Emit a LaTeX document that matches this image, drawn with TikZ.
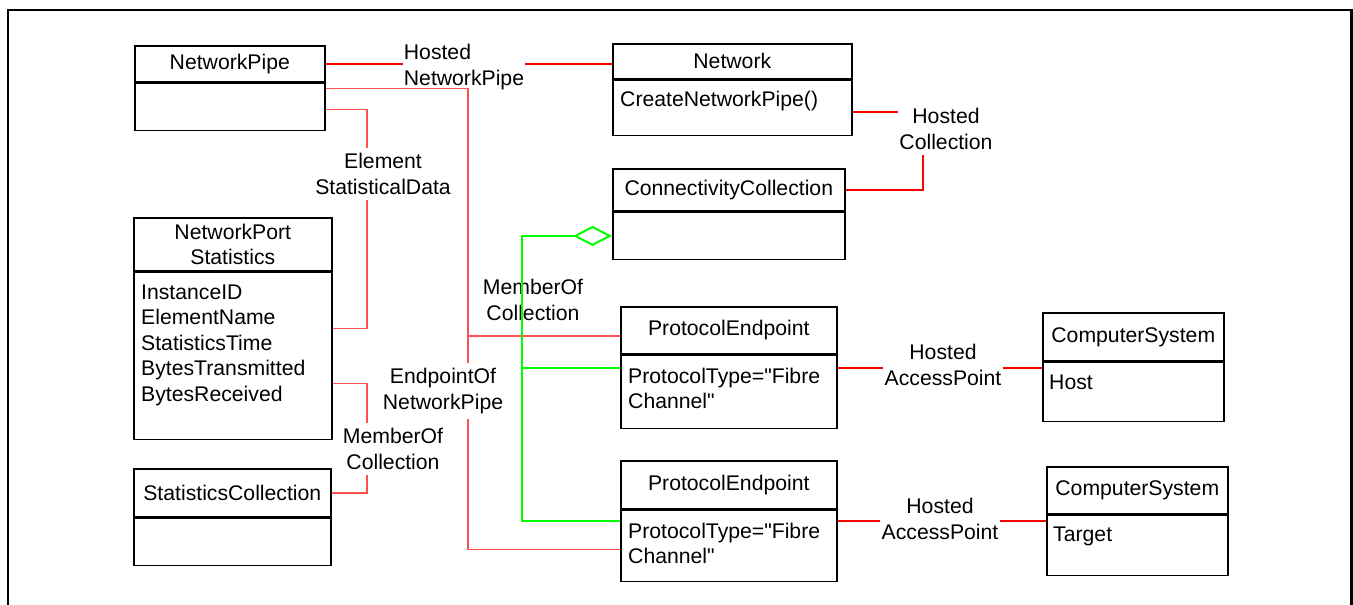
\documentclass[tikz,border=0pt]{standalone}
\usepackage{fontspec}
\setmainfont{Liberation Sans}[Ligatures=TeXOff]
\usetikzlibrary{arrows.meta, positioning}

\definecolor{hostred}{RGB}{255,0,0}
\definecolor{palered}{RGB}{255,80,80}
\definecolor{aggrgreen}{RGB}{0,255,0}

\begin{document}
\begin{tikzpicture}[x=1pt, y=-1pt,
		every node/.style={font=\fontsize{21.2}{25.5}\selectfont},
		head/.style={draw, line width=1.6pt, anchor=north west, inner sep=0pt, align=center},
		body/.style={draw, line width=1.6pt, anchor=north west, inner sep=0pt},
		attr/.style={anchor=north west, inner sep=0pt, align=left},
		rel/.style={inner xsep=1pt, inner ysep=5pt, align=center},
		hosted/.style={hostred, line width=2pt},
		assoc/.style={palered, line width=1.4pt},
		member/.style={aggrgreen, line width=2pt}]
			\useasboundingbox (0, 0) rectangle (1353, 605);
			\draw[line width=2.5pt] (8, 605) |- (1351.5, 10) -- (1351.5, 605);

			\node (pipe)[head, minimum width=190pt, minimum height=36pt] at (134, 45) {NetworkPipe};
			\node (pipeb)[body, minimum width=190pt, minimum height=47pt] at (pipe.south west) {};

			\node (nps)[head, minimum width=198pt, minimum height=53pt] at (133, 217) {NetworkPort\\Statistics};
			\node (npsb)[body, minimum width=198pt, minimum height=167pt] at (nps.south west) {};
			\node (npsa)[attr] at ([xshift=8pt, yshift=-13pt]npsb.north west) {InstanceID\\ElementName\\StatisticsTime\\BytesTransmitted\\BytesReceived};

			\node (stat)[head, minimum width=197pt, minimum height=48pt] at (133, 468) {StatisticsCollection};
			\node (statb)[body, minimum width=197pt, minimum height=47pt] at (stat.south west) {};

			\node (net)[head, minimum width=239pt, minimum height=35pt] at (612, 43) {Network};
			\node (netb)[body, minimum width=239pt, minimum height=55pt] at (net.south west) {};
			\node (neta)[attr] at ([xshift=8pt, yshift=-11pt]netb.north west) {CreateNetworkPipe()};

			\node (conn)[head, minimum width=232pt, minimum height=42pt] at (612, 168) {ConnectivityCollection};
			\node (connb)[body, minimum width=232pt, minimum height=47pt] at (conn.south west) {};

			\node (pe1)[head, minimum width=216pt, minimum height=47pt] at (620, 306) {ProtocolEndpoint};
			\node (pe1b)[body, minimum width=216pt, minimum height=73pt] at (pe1.south west) {};
			\node (pe1a)[attr] at ([xshift=8pt, yshift=-13pt]pe1b.north west) {ProtocolType="Fibre\\Channel"};

			\node (pe2)[head, minimum width=216pt, minimum height=48pt] at (620, 460) {ProtocolEndpoint};
			\node (pe2b)[body, minimum width=216pt, minimum height=71pt] at (pe2.south west) {};
			\node (pe2a)[attr] at ([xshift=8pt, yshift=-13pt]pe2b.north west) {ProtocolType="Fibre\\Channel"};

			\node (cs1)[head, minimum width=181pt, minimum height=48pt] at (1042, 312) {ComputerSystem};
			\node (cs1b)[body, minimum width=181pt, minimum height=59pt] at (cs1.south west) {};
			\node (cs1a)[attr] at ([xshift=7pt, yshift=-13pt]cs1b.north west) {Host};

			\node (cs2)[head, minimum width=181pt, minimum height=47pt] at (1046, 466) {ComputerSystem};
			\node (cs2b)[body, minimum width=181pt, minimum height=60pt] at (cs2.south west) {};
			\node (cs2a)[attr] at ([xshift=7pt, yshift=-12pt]cs2b.north west) {Target};

			\node (hnp)[rel, align=left] at (464, 67) {Hosted\\NetworkPipe};
			\node (esd)[rel] at (383, 174) {Element\\StatisticalData};
			\node (mocs)[rel] at (393, 449) {MemberOf\\Collection};
			\node (epnp)[rel] at (443, 391) {EndpointOf\\NetworkPipe};
			\node (mocp)[rel] at (533, 300) {MemberOf\\Collection};
			\node (hc)[rel] at (946, 129) {Hosted\\Collection};
			\node (hap1)[rel] at (943, 365) {Hosted\\AccessPoint};
			\node (hap2)[rel] at (940, 519) {Hosted\\AccessPoint};

			\coordinate (esdt) at ([xshift=-16pt]esd.north);
			\coordinate (esdb) at ([xshift=-16pt]esd.south);
			\coordinate (mocst) at ([xshift=-26pt]mocs.north);
			\coordinate (mocsb) at ([xshift=-26pt]mocs.south);
			\coordinate (epnpt) at ([xshift=25pt]epnp.north);
			\coordinate (epnpb) at ([xshift=25pt]epnp.south);
			\coordinate (mocx) at (522, 0);

			% pipe side
			\draw[hosted] (pipe.east) -- (pipe.east -| hnp.west);
			\draw[hosted] (pipe.east -| hnp.east) -- (pipe.east -| net.west);
			\draw[assoc] ([yshift=-27pt]pipeb.north east) -| (esdt);
			\draw[assoc] (esdb) |- ([yshift=-57pt]npsb.north east);
			\draw[assoc] ([yshift=-112pt]npsb.north east) -| (mocst);
			\draw[assoc] (mocsb) |- (stat.east);
			\draw[assoc] ([yshift=-6pt]pipeb.north east) -| (epnpt);
			\draw[assoc] (epnpb) |- ([yshift=-40pt]pe2b.north west);
			\draw[assoc] ([yshift=-30pt]pe1.north west) coordinate (pe1e) -- (pe1e -| epnpt);

			% collections
			\draw[hosted] ([yshift=-32pt]netb.north east) coordinate (hcs) -- (hcs -| hc.west);
			\draw[hosted] ([xshift=-23pt]hc.south) |- (conn.east);
			\draw[member, -{Diamond[open, length=39pt, width=20pt]}] ([yshift=-11pt]pe2b.north west) -| (mocx |- connb.west) -- (connb.west);
			\draw[member] ([yshift=-13pt]pe1b.north west) coordinate (pe1g) -- (pe1g -| mocx);

			% hosts
			\draw[hosted] ([yshift=-13pt]pe1b.north east) coordinate (hap1s) -- (hap1s -| hap1.west);
			\draw[hosted] (hap1s -| hap1.east) -- (hap1s -| cs1b.west);
			\draw[hosted] ([yshift=-11pt]pe2b.north east) coordinate (hap2s) -- (hap2s -| hap2.west);
			\draw[hosted] (hap2s -| hap2.east) -- (hap2s -| cs2b.west);
		\end{tikzpicture}
\end{document}
